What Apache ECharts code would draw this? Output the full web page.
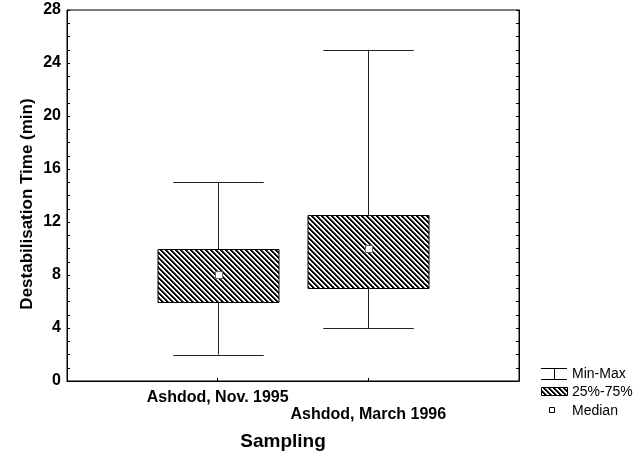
<!DOCTYPE html>
<html>
<head>
<meta charset="utf-8">
<script src="https://cdn.jsdelivr.net/npm/echarts@6/dist/echarts.min.js"></script>
<style>
  html, body { margin: 0; padding: 0; background: #fff; }
  #chart { width: 643px; height: 457px; }
</style>
</head>
<body>
<div id="chart"></div>
<script>
// Sampling campaigns (empty slots pad the axis on both sides)
const categories = ['', 'Ashdod, Nov. 1995', 'Ashdod, March 1996', ''];
// Destabilisation time statistics (min), one entry per campaign
const minVals = [2, 4];
const q1Vals = [6, 7];
const medianVals = [8, 10];
const q3Vals = [10, 12.5];
const maxVals = [15, 25];
const yTicks = [0, 4, 8, 12, 16, 20, 24, 28];

const FONT = '"Liberation Sans", Arial, Helvetica, sans-serif';

// Diagonal hatch tile (lines running top-left to bottom-right)
function makeHatch() {
  const size = 10, period = 5;
  const shades = [0, 0, 110, 255, 255];
  const c = document.createElement('canvas');
  c.width = size; c.height = size;
  const ctx = c.getContext('2d');
  const img = ctx.createImageData(size, size);
  for (let y = 0; y < size; y++) {
    for (let x = 0; x < size; x++) {
      const d = (((x - y) % period) + period) % period;
      const v = shades[d];
      const i = (y * size + x) * 4;
      img.data[i] = v; img.data[i + 1] = v; img.data[i + 2] = v; img.data[i + 3] = 255;
    }
  }
  ctx.putImageData(img, 0, 0);
  return c;
}
const hatch = { image: makeHatch(), repeat: 'repeat' };

const boxData = minVals.map((_, i) => [i + 1, minVals[i], q1Vals[i], medianVals[i], q3Vals[i], maxVals[i]]);

function renderBox(params, api) {
  const xi = api.value(0);
  const pMin = api.coord([xi, api.value(1)]);
  const pQ1 = api.coord([xi, api.value(2)]);
  const pMed = api.coord([xi, api.value(3)]);
  const pQ3 = api.coord([xi, api.value(4)]);
  const pMax = api.coord([xi, api.value(5)]);
  const step = api.size([1, 0])[0];
  const boxW = step * 0.8;
  const capW = step * 0.6;
  const cx = Math.round(pMin[0]) + 0.5;
  const lineStyle = { stroke: '#222', lineWidth: 1 };
  const sq = 6;
  return {
    type: 'group',
    children: [
      { type: 'line', shape: { x1: cx, y1: pMax[1], x2: cx, y2: pMin[1] }, style: lineStyle },
      { type: 'line', shape: { x1: cx - capW / 2, y1: Math.round(pMax[1]) + 0.5, x2: cx + capW / 2, y2: Math.round(pMax[1]) + 0.5 }, style: lineStyle },
      { type: 'line', shape: { x1: cx - capW / 2, y1: Math.round(pMin[1]) + 0.5, x2: cx + capW / 2, y2: Math.round(pMin[1]) + 0.5 }, style: lineStyle },
      {
        type: 'rect',
        shape: { x: Math.round(cx - boxW / 2), y: Math.round(pQ3[1]) + 0.5, width: Math.round(boxW), height: Math.round(pQ1[1] - pQ3[1]) },
        style: { fill: hatch, stroke: '#000', lineWidth: 1 }
      },
      {
        type: 'rect',
        z2: 10,
        shape: { x: Math.round(cx - sq / 2) - 0.5, y: Math.round(pMed[1] - sq / 2) - 0.5, width: sq + 1, height: sq + 1 },
        style: { fill: '#fff', stroke: '#666', lineWidth: 1 }
      }
    ]
  };
}

const chart = echarts.init(document.getElementById('chart'), null, { renderer: 'canvas' });
chart.setOption({
  animation: false,
  backgroundColor: '#fff',
  grid: { left: 67, right: 124, top: 10, bottom: 76, show: true, borderColor: '#000', borderWidth: 1, backgroundColor: 'transparent' },
  xAxis: {
    type: 'category',
    data: categories,
    boundaryGap: false,
    axisLine: { lineStyle: { color: '#000', width: 1 } },
    axisTick: { show: true, inside: true, length: 3, interval: (i) => i === 1 || i === 2, lineStyle: { color: '#000' } },
    axisLabel: {
      interval: 0,
      margin: 8,
      color: '#000',
      fontFamily: FONT,
      fontWeight: 'bold',
      fontSize: 16,
      lineHeight: 17,
      formatter: (v, i) => (i === 2 ? '\n' + v : v)
    },
    splitLine: { show: false }
  },
  yAxis: [
    {
      type: 'value',
      min: yTicks[0],
      max: yTicks[yTicks.length - 1],
      interval: yTicks[1] - yTicks[0],
      axisLine: { show: true, lineStyle: { color: '#000', width: 1 } },
      axisTick: { show: true, inside: true, length: 3, lineStyle: { color: '#000' } },
      minorTick: { show: true, splitNumber: 4, length: 3, lineStyle: { color: '#000' } },
      axisLabel: { margin: 6, color: '#000', fontFamily: FONT, fontWeight: 'bold', fontSize: 16 },
      splitLine: { show: false }
    },
    {
      type: 'value',
      position: 'right',
      min: yTicks[0],
      max: yTicks[yTicks.length - 1],
      interval: yTicks[1] - yTicks[0],
      axisLine: { show: true, lineStyle: { color: '#000', width: 1 } },
      axisTick: { show: true, inside: true, length: 3, lineStyle: { color: '#000' } },
      minorTick: { show: true, splitNumber: 4, length: 3, lineStyle: { color: '#000' } },
      axisLabel: { show: false },
      splitLine: { show: false }
    }
  ],
  series: [
    {
      type: 'custom',
      name: 'Sampling',
      renderItem: renderBox,
      encode: { x: 0, y: [1, 2, 3, 4, 5] },
      data: boxData,
      z: 5
    }
  ],
  graphic: [
    {
      type: 'text', x: 27, y: 204, rotation: Math.PI / 2,
      style: { text: 'Destabilisation Time (min)', font: 'bold 17px ' + FONT, fill: '#000', align: 'center', verticalAlign: 'middle' }
    },
    {
      type: 'text', x: 283, y: 442,
      style: { text: 'Sampling', font: 'bold 19px ' + FONT, fill: '#000', align: 'center', verticalAlign: 'middle' }
    },
    // legend: Min-Max
    { type: 'line', shape: { x1: 541, y1: 368.5, x2: 567, y2: 368.5 }, style: { stroke: '#000', lineWidth: 1 } },
    { type: 'line', shape: { x1: 554.5, y1: 368.5, x2: 554.5, y2: 379.5 }, style: { stroke: '#000', lineWidth: 1 } },
    { type: 'line', shape: { x1: 541, y1: 379.5, x2: 567, y2: 379.5 }, style: { stroke: '#000', lineWidth: 1 } },
    { type: 'text', x: 572, y: 374, style: { text: 'Min-Max', font: '14px ' + FONT, fill: '#000', verticalAlign: 'middle' } },
    // legend: 25%-75%
    { type: 'rect', shape: { x: 541.5, y: 387.5, width: 26, height: 8 }, style: { fill: hatch, stroke: '#000', lineWidth: 1 } },
    { type: 'text', x: 572, y: 392, style: { text: '25%-75%', font: '14px ' + FONT, fill: '#000', verticalAlign: 'middle' } },
    // legend: Median
    { type: 'rect', shape: { x: 549.5, y: 407.5, width: 5, height: 5 }, style: { fill: '#fff', stroke: '#000', lineWidth: 1 } },
    { type: 'text', x: 572, y: 411, style: { text: 'Median', font: '14px ' + FONT, fill: '#000', verticalAlign: 'middle' } }
  ]
});
</script>
</body>
</html>
